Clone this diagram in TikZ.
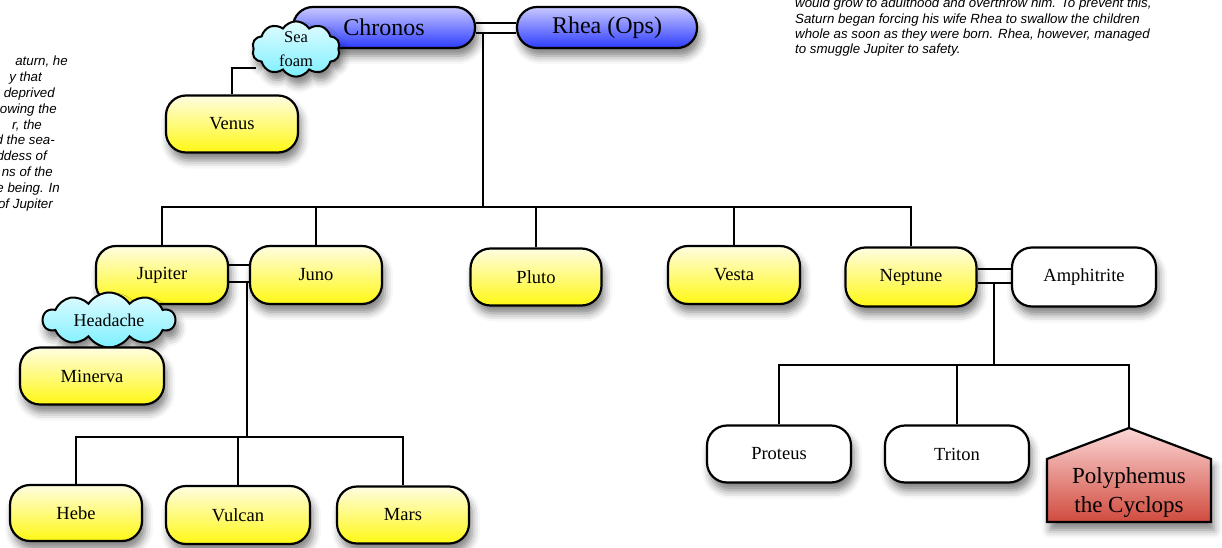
\documentclass[tikz,border=0pt]{standalone}
\usepackage{fontspec}
\setmainfont{Liberation Serif}
\newfontfamily\notefont{Liberation Sans}
\usetikzlibrary{shapes.symbols,shadows.blur,calc}
\definecolor{yeltop}{RGB}{255,253,225}
\definecolor{yelbot}{RGB}{255,248,20}
\definecolor{bluetop}{RGB}{200,200,255}
\definecolor{bluebot}{RGB}{45,60,255}
\definecolor{cyantop}{RGB}{225,252,255}
\definecolor{cyanbot}{RGB}{125,240,255}
\definecolor{redtop}{RGB}{252,215,215}
\definecolor{redbot}{RGB}{208,75,62}
\begin{document}
\begin{tikzpicture}[x=1pt,y=-1pt,
  shad/.style={blur shadow={shadow xshift=3pt, shadow yshift=-8pt, shadow blur radius=8pt, shadow opacity=50}},
  pill/.style={shad, draw=black, line width=2.2pt, rounded corners=20pt, minimum height=57pt, minimum width=132pt, inner sep=0pt, font=\fontsize{18.5}{22}\selectfont},
  yel/.style={pill, top color=yeltop, bottom color=yelbot},
  wht/.style={pill, fill=white},
  blu/.style={pill, top color=bluetop, bottom color=bluebot, minimum height=41pt, font=\fontsize{24}{28}\selectfont},
  cloudnode/.style={shad, cloud, cloud puffs=10, cloud puff arc=115, cloud ignores aspect, draw=black, line width=2pt, top color=cyantop, bottom color=cyanbot, inner sep=0pt, align=center},
  conn/.style={draw=black, line width=2pt},
  note/.style={font=\notefont\itshape\fontsize{13.3}{15.5}\selectfont, inner sep=0pt}
]
\path[use as bounding box] (0,0) rectangle (1222,548);
\clip (0,0) rectangle (1222,548);

% notes
\node[note, anchor=base east] (l1) at (68,66) {aturn, he};
\node[note, anchor=base east] (l2) at (42,81.8) {y that};
\node[note, anchor=base east] (l3) at (55,97.6) {deprived};
\node[note, anchor=base east] (l4) at (57,113.4) {rowing the};
\node[note, anchor=base east] (l5) at (42,129.2) {r, the};
\node[note, anchor=base east] (l6) at (55,145) {d the sea-};
\node[note, anchor=base east] (l7) at (47,160.8) {ddess of};
\node[note, anchor=base east] (l8) at (53,176.6) {ns of the};
\node[note, anchor=base east] (l9) at (60,192.4) {e being. In};
\node[note, anchor=base east] (l10) at (53,208.2) {of Jupiter};

\node[note, anchor=base west] (r1) at (795,8) {would grow to adulthood and overthrow him. To prevent this,};
\node[note, anchor=base west] (r2) at (795,23.3) {Saturn began forcing his wife Rhea to swallow the children};
\node[note, anchor=base west] (r3) at (795,38.6) {whole as soon as they were born. Rhea, however, managed};
\node[note, anchor=base west] (r4) at (795,53.9) {to smuggle Jupiter to safety.};

% top generation
\node[blu, minimum width=182pt] (chronos) at (384,27.5) {Chronos};
\node[blu, minimum width=180pt] (rhea) at (607,27.5) {Rhea (Ops)};
\node[yel] (venus) at (232,124) {Venus};
\node[cloudnode, minimum width=88pt, minimum height=54pt, font=\fontsize{16.5}{24}\selectfont] (seafoam) at (296,49) {Sea\\foam};

% children
\node[yel, minimum height=58pt] (jupiter) at (162,275) {Jupiter};
\node[yel, minimum height=58pt] (juno) at (316,275) {Juno};
\node[yel, minimum width=131pt] (pluto) at (536,277) {Pluto};
\node[yel, minimum height=58pt] (vesta) at (734,275) {Vesta};
\node[yel, minimum width=131pt, minimum height=59pt] (neptune) at (911,277) {Neptune};
\node[wht, minimum width=144pt, minimum height=59pt] (amphitrite) at (1084,277) {Amphitrite};
\node[cloudnode, minimum width=132pt, minimum height=55pt, font=\fontsize{18}{21}\selectfont] (headache) at (109,320) {Headache};
\node[yel, minimum width=144pt] (minerva) at (92,376) {Minerva};

% grandchildren
\node[yel, minimum height=56pt] (hebe) at (76,513) {Hebe};
\node[yel, minimum width=144pt, minimum height=58pt] (vulcan) at (238,515) {Vulcan};
\node[yel] (mars) at (403,515) {Mars};
\node[wht, minimum width=144pt] (proteus) at (779,454) {Proteus};
\node[wht, minimum width=144pt] (triton) at (957,454) {Triton};
\path[shad, draw=black, line width=2.2pt, top color=redtop, bottom color=redbot]
  (1129,428) -- (1211,459) -- (1211,522) -- (1047,522) -- (1047,459) -- cycle;
\node[align=center, inner sep=0pt, font=\fontsize{23}{29}\selectfont] (poly) at (1129,492) {Polyphemus\\the Cyclops};
\coordinate (polytop) at (1129,428);

% connectors
\coordinate (sfl) at (256,68);
\draw[conn] (venus.north) |- (sfl);

\draw[conn] ($(chronos.east)+(0,-4.5)$) -- ($(rhea.west)+(0,-4.5)$);
\draw[conn] ($(chronos.east)+(0,5.5)$) -- ($(rhea.west)+(0,5.5)$);
\coordinate (cr) at (483,33);
\coordinate (bar1) at (483,207);
\draw[conn] (cr) -- (bar1);
\draw[conn] (jupiter.north) |- (bar1) -| (neptune.north);
\draw[conn] (juno.north) -- (juno.north |- bar1);
\draw[conn] (pluto.north) -- (pluto.north |- bar1);
\draw[conn] (vesta.north) -- (vesta.north |- bar1);

\draw[conn] ($(jupiter.east)+(0,-10)$) -- ($(juno.west)+(0,-10)$);
\draw[conn] ($(jupiter.east)+(0,7)$) -- ($(juno.west)+(0,7)$);
\coordinate (jj) at (247,282);
\coordinate (bar2) at (247,437);
\draw[conn] (jj) -- (bar2);
\draw[conn] (hebe.north) |- (bar2) -| (mars.north);
\draw[conn] (vulcan.north) -- (vulcan.north |- bar2);

\draw[conn] ($(neptune.east)+(0,-8)$) -- ($(amphitrite.west)+(0,-8)$);
\draw[conn] ($(neptune.east)+(0,6)$) -- ($(amphitrite.west)+(0,6)$);
\coordinate (na) at (994,283);
\coordinate (bar3) at (994,365);
\draw[conn] (na) -- (bar3);
\draw[conn] (proteus.north) |- (bar3) -| (polytop);
\draw[conn] (triton.north) -- (triton.north |- bar3);
\end{tikzpicture}
\end{document}
